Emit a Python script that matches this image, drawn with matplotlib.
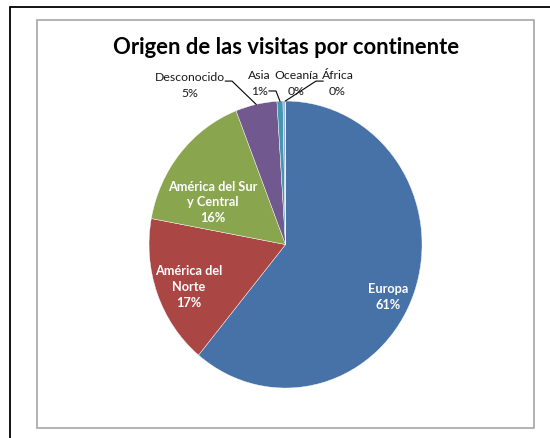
import numpy as np
import matplotlib
matplotlib.use("Agg")
import matplotlib.pyplot as plt
from matplotlib.patches import Rectangle

# --------------------------------------------------------------- datos
continentes = ["Europa", "América del Norte", "América del Sur y Central",
               "Desconocido", "Asia", "Oceanía", "África"]
porcentajes = [61.0, 16.9, 16.2, 4.9, 0.7, 0.25, 0.05]
etiquetas = ["Europa", "América del\nNorte", "América del Sur\ny Central",
             "Desconocido", "Asia", "Oceanía", "África"]
colores = ["#4672A8", "#AA4644", "#89A54E", "#71588F", "#4198AF", "#93A9CF", "#DB843D"]
titulo = "Origen de las visitas por continente"

plt.rcParams["font.family"] = ["Lato", "DejaVu Sans"]

fig = plt.figure(figsize=(5.5, 4.39), dpi=100)

# marcos (negro exterior, gris interior)
fig.patches.append(Rectangle((10 / 550, -0.1), 1.0, 1 - 8 / 439 + 0.1,
                             transform=fig.transFigure, fill=False,
                             edgecolor="black", lw=1.3))
fig.patches.append(Rectangle((37 / 550, 1 - 429 / 439), 497 / 550, 408 / 439,
                             transform=fig.transFigure, fill=False,
                             edgecolor="#A6A6A6", lw=1.2))

ax = fig.add_axes([0.2089, 0.0321, 0.6205, 0.8172])
wedges, _ = ax.pie(porcentajes, colors=colores, startangle=90, counterclock=False,
                   wedgeprops=dict(edgecolor="white", linewidth=0.3))
ax.set_aspect("auto")
ax.set_xlim(-1.25, 1.25)
ax.set_ylim(-1.25, 1.25)

total = sum(porcentajes)
textos = [f"{e}\n{p / total * 100:.0f}%" for e, p in zip(etiquetas, porcentajes)]

# etiquetas dentro (blancas, negrita)
pos_dentro = {0: (0.75, -0.36), 1: (-0.71, -0.29), 2: (-0.53, 0.30)}
for i, (x, y) in pos_dentro.items():
    ax.text(x, y, textos[i], ha="center", va="center", color="white",
            fontsize=9.2, fontweight="bold", linespacing=1.38)

# etiquetas fuera con líneas guía
pos_fuera = {3: (-0.70, 1.115), 4: (-0.19, 1.13), 5: (0.08, 1.13), 6: (0.38, 1.13)}
for i, (x, y) in pos_fuera.items():
    ax.text(x, y, textos[i], ha="center", va="center", color="#1a1a1a",
            fontsize=8.8, linespacing=1.6)

# guía: inicio junto a la etiqueta, tramo horizontal, luego al borde de la porción
guias = {3: (-0.441, -0.392, 1.139), 4: (-0.121, -0.070, 1.070), 6: (0.275, 0.223, 1.139)}
for i, (x0, x1, y0) in guias.items():
    w = wedges[i]
    ang = np.deg2rad((w.theta1 + w.theta2) / 2)
    ax.plot([x0, x1, np.cos(ang)], [y0, y0, np.sin(ang)], color="black", lw=0.8)

fig.text(286 / 550, 1 - 48 / 439, titulo, ha="center", va="center",
         fontsize=15.8, fontweight="bold")

fig.savefig("out.png", dpi=100, facecolor="white")
